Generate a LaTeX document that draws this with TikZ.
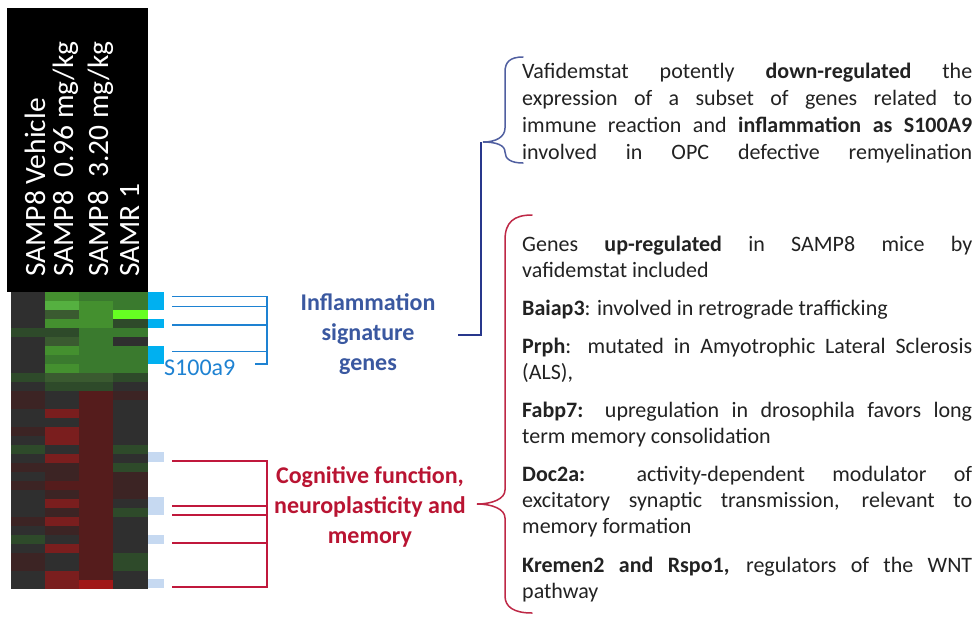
\documentclass[tikz,border=0pt]{standalone}
\usepackage{fontspec}
\setmainfont{Carlito}

% heatmap palette
\definecolor{hmdk}{RGB}{47,47,47}
\definecolor{hmdg}{RGB}{46,74,42}
\definecolor{hmdm}{RGB}{58,90,48}
\definecolor{hmmg}{RGB}{58,122,46}
\definecolor{hmgr}{RGB}{68,144,47}
\definecolor{hmbg}{RGB}{85,176,64}
\definecolor{hmlm}{RGB}{102,255,34}
\definecolor{hmrb}{RGB}{60,36,36}
\definecolor{hmdr}{RGB}{85,28,28}
\definecolor{hmrd}{RGB}{122,30,30}
\definecolor{hmbr}{RGB}{160,24,24}
% marks and links
\definecolor{mkcyan}{RGB}{0,176,240}
\definecolor{mklight}{RGB}{198,217,241}
\definecolor{linkblue}{RGB}{30,130,210}
\definecolor{linkred}{RGB}{192,24,60}
\definecolor{navyline}{RGB}{40,55,140}
\definecolor{bracegrey}{RGB}{80,95,160}
\definecolor{bracered}{RGB}{190,40,70}
\definecolor{titleblue}{RGB}{58,88,160}
\definecolor{titlered}{RGB}{185,20,50}
\definecolor{bodygrey}{RGB}{34,34,34}

\tikzset{
  hdr/.style={rotate=90, anchor=base west, inner sep=0pt, text=white,
    font=\fontsize{29.5}{32}\selectfont},
  bodyline/.style={anchor=base west, inner sep=0pt, text=bodygrey,
    font=\fontsize{22}{26}\selectfont},
  title/.style={align=center, inner sep=0pt, font=\bfseries\fontsize{24}{30}\selectfont},
  bluelink/.style={draw=linkblue, line width=1.5pt},
  redlink/.style={draw=linkred, line width=1.5pt},
  bracepath/.style={line width=1.5pt, line cap=round}
}
\newcommand{\fullline}[1]{\makebox[450pt][s]{#1}}

\begin{document}
\begin{tikzpicture}[x=1pt,y=-1pt]
\useasboundingbox (0,0) rectangle (979,616);
\fill[white] (0,0) rectangle (979,616);

% column header
\fill[black] (7,8) rectangle (148,292);
\node[hdr] (h1) at (45,277)  {SAMP8 Vehicle};
\node[hdr] (h2) at (73,277)  {SAMP8\ \ 0.96 mg/kg};
\node[hdr] (h3) at (108,277) {SAMP8\ \ 3.20 mg/kg};
\node[hdr] (h4) at (139,277) {SAMR 1};

% heatmap cells, one row per entry
\foreach \a/\b/\c/\d [count=\r from 0] in {
  dk/gr/mg/mg, dk/bg/gr/mg, dk/dm/gr/lm, dk/gr/gr/dg, dg/dg/mg/mg,
  dk/dm/mg/dk, dk/gr/mg/mg, dk/mg/mg/mg, dk/gr/mg/mg, dg/dm/dm/dg,
  dk/dg/dg/dk, rb/dk/dr/rb, rb/dk/dr/dk, dk/rd/dr/dk, dk/dk/dr/dk,
  rb/rd/dr/dk, dk/rd/dr/dk, dg/dk/dr/dg, dk/rd/dr/dk, rb/rb/dr/dg,
  dk/rb/dr/rb, rb/dr/dr/rb, dk/rb/dr/rb, dk/rd/dr/dk, dk/rb/dr/dg,
  rb/rd/dr/dk, dk/rb/dr/dk, dg/dk/dr/dk, dk/rd/dr/dk, rb/dk/dr/dg,
  rb/dk/dr/dg, dk/rd/dr/dk, dk/rd/br/dk} {
  \fill[hm\a] (10.5,291.5+9*\r)  rectangle ++(34.3,9);
  \fill[hm\b] (44.8,291.5+9*\r)  rectangle ++(34.3,9);
  \fill[hm\c] (79.1,291.5+9*\r)  rectangle ++(34.3,9);
  \fill[hm\d] (113.4,291.5+9*\r) rectangle ++(34.3,9);
}

% row marks
\fill[mkcyan] (148,291.5) rectangle (164,309.5);
\fill[mkcyan] (148,318.5) rectangle (164,327.5);
\fill[mkcyan] (148,345.5) rectangle (164,363.5);
\fill[mklight] (148,452) rectangle (164,461.5);
\fill[mklight] (148,497) rectangle (164,515);
\fill[mklight] (148,535) rectangle (164,543.5);
\fill[mklight] (148,579) rectangle (164,588);

% inflammation group bracket
\coordinate (ba1) at (172,296.7);
\coordinate (ba2) at (172,306.7);
\coordinate (ba3) at (172,325);
\coordinate (ba4) at (172,351.7);
\coordinate (bt)  at (267,296.7);
\coordinate (bb)  at (267,364);
\coordinate (bs)  at (255,364);
\draw[bluelink] (ba1) -- (bt) -- (bb) -- (bs);
\draw[bluelink] (ba2) -- (ba2 -| bt);
\draw[bluelink] (ba3) -- (ba3 -| bt);
\draw[bluelink] (ba4) -- (ba4 -| bt);
\node[anchor=west, inner sep=0pt, text=linkblue, font=\fontsize{24}{26}\selectfont]
  (s100) at (164,368) {S100a9};

% cognition group bracket
\coordinate (ra1) at (172,461);
\coordinate (ra2) at (172,506);
\coordinate (ra3) at (172,515);
\coordinate (ra4) at (172,543);
\coordinate (ra5) at (172,587);
\coordinate (rt) at (267,461);
\coordinate (rb) at (267,587);
\draw[redlink] (ra1) -- (rt) -- (rb) -- (ra5);
\draw[redlink] (ra2) -- (ra2 -| rt);
\draw[redlink] (ra3) -- (ra3 -| rt);
\draw[redlink] (ra4) -- (ra4 -| rt);

% group titles
\node[title, text=titleblue] (infl) at (368,334) {Inflammation\\signature\\genes};
\node[title, text=titlered] (cogn) at (370,507) {Cognitive function,\\neuroplasticity and\\memory};

% link from inflammation title to the upper brace
\coordinate (nv1) at (458,335);
\coordinate (nv2) at (481,335);
\coordinate (nv3) at (481,142);
\draw[draw=navyline, line width=1.5pt] (nv1) -- (nv2) -- (nv3);

% upper brace
\draw[bracepath, draw=bracegrey]
  (523,57) .. controls (510,57) and (505,62) .. (505,72)
  -- (505,128) .. controls (505,137) and (496,142) .. (483,142)
  .. controls (496,142) and (505,145) .. (505,152)
  .. controls (505,159) and (511,163) .. (523,163);

% lower brace
\draw[bracepath, draw=bracered]
  (532,215) .. controls (514,215) and (505,222) .. (505,240)
  -- (505,490) .. controls (505,499) and (492,504) .. (477,504)
  .. controls (492,504) and (505,509) .. (505,518)
  -- (505,596) .. controls (505,607) and (514,613) .. (532,613);

% upper text block
\node[bodyline] (t1) at (522,78)  {\fullline{Vafidemstat potently \textbf{down-regulated} the}};
\node[bodyline] (t2) at (522,105) {\fullline{expression of a subset of genes related to}};
\node[bodyline] (t3) at (522,132) {\fullline{immune reaction and \textbf{inflammation as S100A9}}};
\node[bodyline] (t4) at (522,159) {\fullline{involved in OPC defective remyelination}};

% lower text block
\node[bodyline] (g1)  at (522,251) {\fullline{Genes \textbf{up-regulated} in SAMP8 mice by}};
\node[bodyline] (g2)  at (522,277) {vafidemstat included};
\node[bodyline] (g3)  at (522,315) {\textbf{Baiap3}: involved in retrograde trafficking};
\node[bodyline] (g4)  at (522,353) {\fullline{\textbf{Prph}: mutated in Amyotrophic Lateral Sclerosis}};
\node[bodyline] (g5)  at (522,379) {(ALS),};
\node[bodyline] (g6)  at (522,417) {\fullline{\textbf{Fabp7:} upregulation in drosophila favors long}};
\node[bodyline] (g7)  at (522,443) {term memory consolidation};
\node[bodyline] (g8)  at (522,481) {\fullline{\textbf{Doc2a:} activity-dependent modulator of}};
\node[bodyline] (g9)  at (522,507) {\fullline{excitatory synaptic transmission, relevant to}};
\node[bodyline] (g10) at (522,533) {memory formation};
\node[bodyline] (g11) at (522,572) {\fullline{\textbf{Kremen2 and Rspo1,} regulators of the WNT}};
\node[bodyline] (g12) at (522,598) {pathway};
\end{tikzpicture}
\end{document}
